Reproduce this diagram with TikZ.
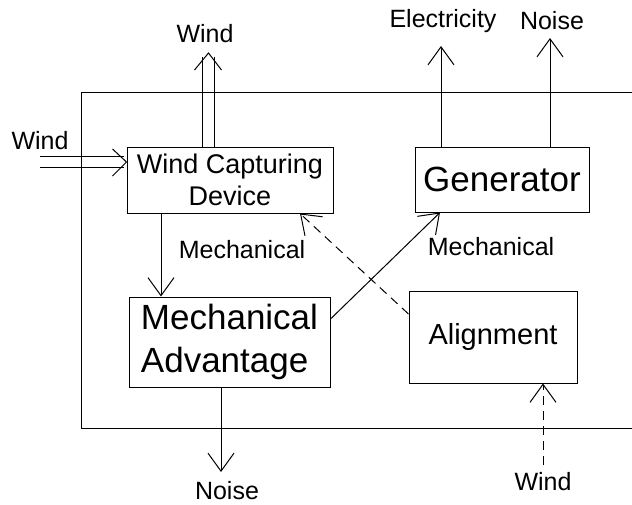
\documentclass[tikz,border=0pt]{standalone}
\usepackage{fontspec}
\setmainfont{Liberation Sans}
\usetikzlibrary{arrows.meta}
\tikzset{
  box/.style={draw, inner sep=0pt},
  arr/.style={-{Straight Barb[length=18pt,width=26pt]}},
  dbl/.style={double, double distance=10.5pt},
  lbl/.style={font=\fontsize{25}{28}\selectfont},
}
\begin{document}
\begin{tikzpicture}[x=1pt, y=-1pt, line width=1pt]
    \useasboundingbox (0,0) rectangle (632,504);
    % Blocks
    \node[box, minimum width=206pt, minimum height=66pt, align=center,
      font=\fontsize{27}{32}\selectfont] (wcd) at (230,180) {Wind Capturing\\Device};
    \node[box, minimum width=174pt, minimum height=65pt,
      font=\fontsize{35}{40}\selectfont] (gen) at (502,179.5) {Generator};
    \node[box, minimum width=201pt, minimum height=90pt, align=left,
      font=\fontsize{35}{43}\selectfont] (ma) at (229.5,342) {Mechanical\\Advantage};
    \node[box, minimum width=168pt, minimum height=92pt,
      font=\fontsize{29}{32}\selectfont] (aln) at (493,337) {Alignment};
    % Wind in from the left (double line)
    \coordinate (windLtip) at ([yshift=18pt]wcd.west);
    \draw[dbl] (40,162) -- ([xshift=-3pt]windLtip);
    \draw ([xshift=-14pt,yshift=13pt]windLtip) -- (windLtip) -- ([xshift=-14pt,yshift=-14pt]windLtip);
    \node[lbl] (windL) at (40,141) {Wind};
    % Wind out at the top (double line)
    \coordinate (windTtip) at (208.5,53);
    \draw[dbl] (wcd.north -| windTtip) -- ([yshift=-4pt]windTtip);
    \draw ([xshift=-14pt,yshift=-17pt]windTtip) -- (windTtip) -- ([xshift=13pt,yshift=-17pt]windTtip);
    \node[lbl] (windT) at (205,34) {Wind};
    % System boundary
    \draw (632,92) -- (81,92) -- (81,428) -- (632,428);
    % Mechanical energy flows
    \draw[arr] ([xshift=-69pt]wcd.south) -- ([xshift=-69pt]wcd.south |- ma.north);
    \node[lbl] (mechL) at (242,250) {Mechanical};
    \draw[arr] ([yshift=23pt]ma.east) -- ([xshift=-62pt]gen.south);
    \node[lbl] (mechR) at (491,247) {Mechanical};
    % Alignment control
    \draw[arr, dash pattern=on 9pt off 6pt] ([yshift=23pt]aln.west) -- ([xshift=70pt]wcd.south);
    \coordinate (windB) at (543,465);
    \draw[arr, dash pattern=on 9pt off 6pt] (windB) -- (windB |- aln.south);
    \node[lbl] (windBl) at (543,482) {Wind};
    % Outputs
    \coordinate (noiseB) at (221,472);
    \draw[arr] (noiseB |- ma.south) -- (noiseB);
    \node[lbl] (noiseBl) at (227,491) {Noise};
    \draw[arr] ([xshift=-61pt]gen.north) -- ([xshift=-61pt]gen.north |- 0,46);
    \node[lbl] (elec) at (443,21) {Electricity};
    \draw[arr] ([xshift=48pt]gen.north) -- ([xshift=48pt]gen.north |- 0,38);
    \node[lbl] (noiseT) at (552,21) {Noise};
\end{tikzpicture}
\end{document}
